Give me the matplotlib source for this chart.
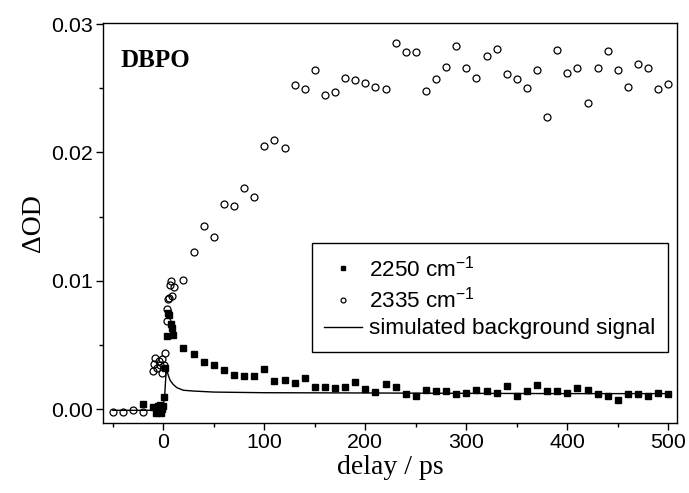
import matplotlib
matplotlib.use("Agg")
import matplotlib.pyplot as plt
from matplotlib.ticker import MultipleLocator, FormatStrFormatter

plt.rcParams['font.family'] = ['Liberation Sans', 'DejaVu Sans']
plt.rcParams['mathtext.fontset'] = 'custom'
plt.rcParams['mathtext.rm'] = 'Liberation Sans'
plt.rcParams['mathtext.it'] = 'Liberation Sans:italic'
plt.rcParams['mathtext.default'] = 'regular'

# ---- data: 2250 cm-1 (filled squares) ----
t_2250 = [-20, -10, -7, -5, -3.5, -2, -1, 0, 1, 2, 3.5, 4.5, 5.5, 7.5, 8.5, 10,
          20, 30, 40, 50, 60, 70, 80, 90, 100, 110, 120,
          130, 140, 150, 160, 170, 180, 190, 200, 210, 220, 230, 240, 250, 260,
          270, 280, 290, 300, 310, 320, 330, 340, 350, 360, 370, 380, 390, 400,
          410, 420, 430, 440, 450, 460, 470, 480, 490, 500]
v_2250 = [0.00037, 0.00016, -0.0003, 0.0002, 0.0003, -0.0003, 0.0000, 0.00023,
          0.00094, 0.00323, 0.0057, 0.00745, 0.00734, 0.00662, 0.0063, 0.00578,
          0.00474, 0.00427, 0.0037, 0.00345, 0.00302, 0.00266, 0.0026, 0.00254,
          0.00311, 0.00219, 0.00225,
          0.00201, 0.0024, 0.00174, 0.00174, 0.00167, 0.00174, 0.00211, 0.00156,
          0.00133, 0.00195, 0.0017, 0.00115, 0.00099, 0.00151, 0.00138, 0.00138,
          0.00115, 0.00128, 0.00148, 0.00138, 0.00128, 0.00177, 0.00099, 0.00138,
          0.00185, 0.00138, 0.00138, 0.00128, 0.00164, 0.00148, 0.00115, 0.00099,
          0.0007, 0.00115, 0.00115, 0.00102, 0.00125, 0.0012]

# ---- data: 2335 cm-1 (open circles) ----
t_2335 = [-50, -40, -30, -20, -10.2, -9.6, -8.6, -6.3, -4.6, -3, -1.3, -1, 0.5,
          1.3, 3.3, 4, 4.3, 5.3, 6.3, 7.9, 8.9, 10.2, 20, 30, 40, 50, 60, 70,
          80, 90, 100, 110, 120, 130, 140, 150, 160, 170, 180, 190, 200, 210,
          220, 230, 240, 250, 260, 270, 280, 290, 300, 310, 320, 330, 340, 350,
          360, 370, 380, 390, 400, 410, 420, 430, 440, 450, 460, 470, 480, 490, 500]
v_2335 = [-0.0002, -0.0002, -0.0001, -0.0002, 0.00297, 0.00349, 0.0040, 0.00323,
          0.00375, 0.0034, 0.00388, 0.00284, 0.0034, 0.0044, 0.00688, 0.00776,
          0.0086, 0.00865, 0.0097, 0.00995, 0.0088, 0.0095, 0.01005, 0.01224,
          0.01427, 0.01344, 0.01596, 0.0158,
          0.01724, 0.01651, 0.02052, 0.0210, 0.02037, 0.02523, 0.02497, 0.02643,
          0.02448, 0.02469, 0.02578, 0.0256, 0.02542, 0.0251, 0.02497, 0.02849,
          0.02779, 0.02784, 0.02482, 0.02568, 0.02669, 0.02826, 0.02659, 0.0258,
          0.02752, 0.02802, 0.02607, 0.0257, 0.02505, 0.02643, 0.02279, 0.02794,
          0.02622, 0.02661, 0.02383, 0.02656, 0.02787, 0.02638, 0.02508, 0.02688,
          0.02656, 0.02497, 0.02529]

# ---- simulated background signal (line) ----
t_bg = [-50, -1, 1.3, 3, 4, 5, 7, 10, 13.5, 20, 30, 50, 100, 200, 300, 400, 500]
v_bg = [-0.0001, -0.0001, 0.00094, 0.0032, 0.0029, 0.0026, 0.0022, 0.0019,
        0.00166, 0.00146, 0.0014, 0.00132, 0.00127, 0.00125, 0.00122, 0.0012, 0.0012]

x_ticks = [0, 100, 200, 300, 400, 500]
y_ticks = [0.00, 0.01, 0.02, 0.03]

W, H = 689, 493
fig = plt.figure(figsize=(W / 100, H / 100), dpi=100)
ax = fig.add_axes([103 / W, 1 - 423 / H, 574 / W, 400 / H])

ax.plot(t_2250, v_2250, linestyle='none', marker='s', ms=4.6, color='black',
        mec='black', label='2250 cm$^{-1}$', zorder=3)
ax.plot(t_2335, v_2335, linestyle='none', marker='o', ms=5.0, mfc='none',
        mec='black', mew=0.9, label='2335 cm$^{-1}$', zorder=3)
ax.plot(t_bg, v_bg, color='black', lw=1.0, label='simulated background signal',
        zorder=4)

ax.set_xlim(-59.7, 508.6)
ax.set_ylim(-0.00109, 0.03008)
ax.set_xticks(x_ticks)
ax.set_yticks(y_ticks)
ax.xaxis.set_minor_locator(MultipleLocator(50))
ax.yaxis.set_minor_locator(MultipleLocator(0.005))
ax.yaxis.set_major_formatter(FormatStrFormatter('%.2f'))
ax.tick_params(which='major', direction='out', length=5, width=1.0,
               labelsize=15.4, pad=2)
ax.tick_params(which='minor', direction='out', length=3, width=1.0)
ax.tick_params(top=False, right=False, which='both')
for s in ax.spines.values():
    s.set_linewidth(1.0)

ax.set_xlabel('delay / ps', family='Liberation Serif', fontsize=20, labelpad=2)
ax.set_ylabel('ΔOD', family='Liberation Serif', fontsize=20, labelpad=4)

ax.text(0.03, 0.89, 'DBPO', transform=ax.transAxes, family='Liberation Serif',
        fontweight='bold', fontsize=18, va='baseline', ha='left')

leg = ax.legend(loc='upper right', bbox_to_anchor=(0.984, 0.45),
                borderaxespad=0, fontsize=16.2, frameon=True, fancybox=False,
                edgecolor='black', framealpha=1, markerscale=0.7,
                handlelength=1.7, handletextpad=0.3, labelspacing=0.25,
                borderpad=0.55)
leg.get_frame().set_linewidth(1.0)

fig.savefig('out.png', dpi=100)
